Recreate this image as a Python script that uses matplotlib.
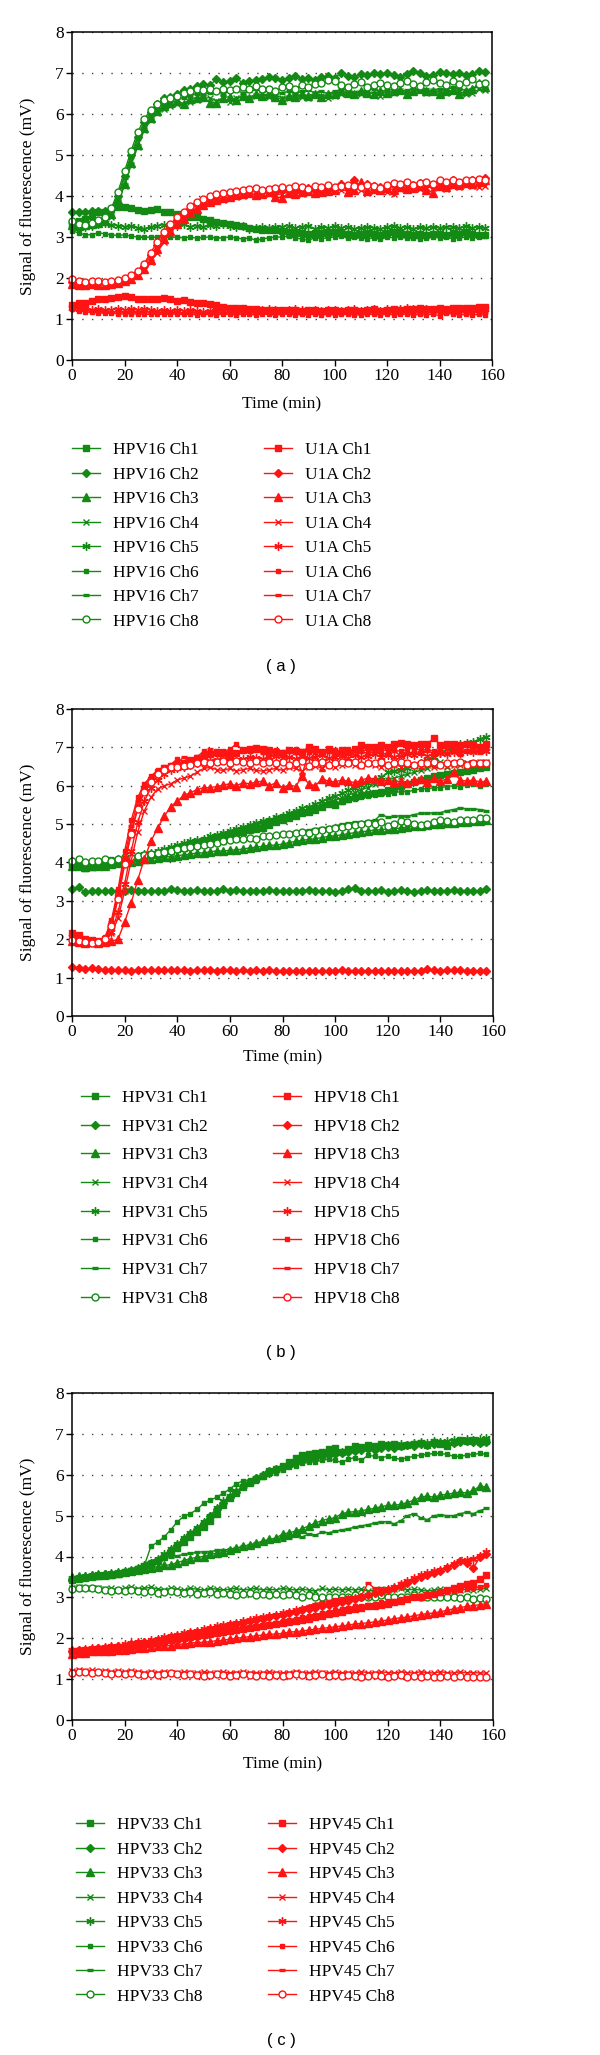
import numpy as np
import matplotlib
matplotlib.use('Agg')
import matplotlib.pyplot as plt

# readings every 2.5 min
time_min = np.arange(64) * 2.5

# ---- panel (a): HPV16 / U1A ----
hpv16_ch1 = [3.35, 3.40, 3.45, 3.52, 3.60, 3.62, 3.68, 3.72,
             3.74, 3.70, 3.66, 3.64, 3.66, 3.68, 3.62, 3.60,
             3.56, 3.53, 3.50, 3.48, 3.45, 3.42, 3.36, 3.34,
             3.32, 3.30, 3.27, 3.22, 3.20, 3.18, 3.17, 3.16,
             3.15, 3.12, 3.10, 3.10, 3.08, 3.08, 3.10, 3.10,
             3.12, 3.10, 3.08, 3.06, 3.08, 3.10, 3.08, 3.06,
             3.10, 3.12, 3.10, 3.08, 3.06, 3.08, 3.05, 3.08,
             3.08, 3.06, 3.10, 3.08, 3.12, 3.08, 3.06, 3.06]
hpv16_ch2 = [3.62, 3.62, 3.62, 3.63, 3.63, 3.64, 3.68, 4.00,
             4.50, 5.00, 5.45, 5.80, 6.05, 6.25, 6.38, 6.42,
             6.50, 6.58, 6.62, 6.68, 6.72, 6.70, 6.85, 6.78,
             6.80, 6.88, 6.76, 6.80, 6.82, 6.86, 6.90, 6.88,
             6.82, 6.88, 6.92, 6.86, 6.88, 6.82, 6.90, 6.92,
             6.88, 7.00, 6.92, 6.90, 6.98, 6.96, 7.00, 6.98,
             7.00, 6.96, 6.90, 6.98, 7.05, 7.00, 6.92, 6.96,
             7.02, 7.00, 6.98, 7.00, 6.96, 6.98, 7.05, 7.02]
hpv16_ch3 = [3.30, 3.28, 3.30, 3.32, 3.35, 3.40, 3.55, 3.90,
             4.30, 4.80, 5.25, 5.65, 5.90, 6.08, 6.20, 6.28,
             6.32, 6.25, 6.36, 6.40, 6.42, 6.28, 6.28, 6.40,
             6.42, 6.35, 6.45, 6.40, 6.48, 6.45, 6.50, 6.42,
             6.35, 6.45, 6.42, 6.48, 6.45, 6.50, 6.42, 6.48,
             6.50, 6.55, 6.52, 6.50, 6.55, 6.52, 6.50, 6.55,
             6.52, 6.55, 6.58, 6.48, 6.55, 6.60, 6.55, 6.55,
             6.50, 6.55, 6.58, 6.50, 6.55, 6.60, 6.75, 6.65]
hpv16_ch4 = [3.28, 3.30, 3.32, 3.30, 3.32, 3.38, 3.50, 3.85,
             4.25, 4.75, 5.20, 5.60, 5.85, 6.02, 6.12, 6.20,
             6.25, 6.22, 6.30, 6.35, 6.38, 6.40, 6.32, 6.38,
             6.30, 6.40, 6.42, 6.38, 6.45, 6.48, 6.42, 6.45,
             6.40, 6.38, 6.45, 6.42, 6.40, 6.48, 6.45, 6.38,
             6.45, 6.48, 6.50, 6.52, 6.50, 6.55, 6.48, 6.45,
             6.50, 6.52, 6.55, 6.50, 6.55, 6.58, 6.52, 6.55,
             6.55, 6.52, 6.58, 6.55, 6.50, 6.52, 6.60, 6.58]
hpv16_ch5 = [3.30, 3.28, 3.25, 3.28, 3.32, 3.35, 3.30, 3.28,
             3.25, 3.28, 3.22, 3.20, 3.25, 3.28, 3.30, 3.26,
             3.28, 3.32, 3.25, 3.28, 3.25, 3.30, 3.28, 3.32,
             3.28, 3.25, 3.26, 3.20, 3.22, 3.25, 3.22, 3.24,
             3.25, 3.28, 3.22, 3.25, 3.28, 3.20, 3.25, 3.22,
             3.26, 3.22, 3.25, 3.20, 3.22, 3.25, 3.22, 3.20,
             3.24, 3.26, 3.22, 3.25, 3.20, 3.24, 3.22, 3.25,
             3.22, 3.25, 3.24, 3.22, 3.26, 3.22, 3.25, 3.22]
hpv16_ch6 = [3.15, 3.10, 3.05, 3.06, 3.10, 3.08, 3.05, 3.04,
             3.05, 3.02, 3.00, 3.00, 2.99, 3.00, 3.00, 2.99,
             3.00, 2.98, 3.00, 2.97, 2.99, 3.00, 2.97, 2.98,
             3.00, 2.98, 2.95, 2.98, 2.92, 2.95, 2.98, 3.00,
             3.00, 3.02, 2.98, 2.95, 2.92, 2.98, 2.96, 2.98,
             3.00, 3.02, 2.98, 3.00, 2.97, 2.96, 2.98, 2.94,
             3.00, 2.98, 3.00, 2.97, 2.98, 2.95, 2.98, 3.00,
             2.98, 3.00, 2.96, 2.98, 3.00, 2.98, 3.00, 3.02]
hpv16_ch7 = [3.32, 3.30, 3.32, 3.35, 3.40, 3.48, 3.62, 3.98,
             4.45, 4.95, 5.38, 5.75, 6.00, 6.15, 6.25, 6.30,
             6.38, 6.40, 6.45, 6.50, 6.48, 6.52, 6.55, 6.50,
             6.55, 6.58, 6.52, 6.55, 6.60, 6.55, 6.58, 6.50,
             6.52, 6.55, 6.50, 6.55, 6.58, 6.52, 6.55, 6.50,
             6.55, 6.60, 6.58, 6.52, 6.55, 6.58, 6.62, 6.55,
             6.58, 6.60, 6.55, 6.58, 6.62, 6.58, 6.60, 6.55,
             6.62, 6.58, 6.65, 6.60, 6.58, 6.62, 6.68, 6.62]
hpv16_ch8 = [3.38, 3.32, 3.30, 3.35, 3.42, 3.50, 3.70, 4.10,
             4.60, 5.10, 5.55, 5.88, 6.10, 6.25, 6.35, 6.40,
             6.45, 6.52, 6.55, 6.60, 6.58, 6.62, 6.55, 6.60,
             6.58, 6.62, 6.65, 6.60, 6.68, 6.60, 6.62, 6.55,
             6.65, 6.68, 6.62, 6.70, 6.65, 6.72, 6.75, 6.82,
             6.80, 6.70, 6.65, 6.72, 6.78, 6.65, 6.70, 6.75,
             6.70, 6.68, 6.75, 6.80, 6.72, 6.68, 6.78, 6.82,
             6.75, 6.70, 6.80, 6.72, 6.78, 6.85, 6.72, 6.75]

u1a_ch1 = [1.35, 1.38, 1.40, 1.45, 1.48, 1.50, 1.52, 1.54,
           1.55, 1.54, 1.50, 1.49, 1.50, 1.50, 1.52, 1.48,
           1.45, 1.46, 1.42, 1.40, 1.38, 1.36, 1.34, 1.30,
           1.28, 1.28, 1.26, 1.24, 1.24, 1.22, 1.23, 1.22,
           1.22, 1.23, 1.22, 1.20, 1.22, 1.22, 1.20, 1.21,
           1.22, 1.20, 1.22, 1.21, 1.20, 1.22, 1.24, 1.20,
           1.22, 1.24, 1.22, 1.25, 1.24, 1.26, 1.24, 1.25,
           1.26, 1.24, 1.26, 1.28, 1.27, 1.26, 1.30, 1.30]
u1a_ch2 = [1.90, 1.88, 1.86, 1.88, 1.90, 1.88, 1.90, 1.92,
           1.98, 2.05, 2.15, 2.30, 2.55, 2.80, 3.05, 3.25,
           3.42, 3.55, 3.68, 3.80, 3.88, 3.95, 4.00, 4.05,
           4.08, 4.10, 4.12, 4.15, 4.18, 4.12, 4.15, 4.10,
           4.15, 4.18, 4.12, 4.15, 4.20, 4.16, 4.12, 4.18,
           4.20, 4.30, 4.25, 4.40, 4.22, 4.30, 4.25, 4.22,
           4.25, 4.28, 4.22, 4.30, 4.28, 4.32, 4.30, 4.25,
           4.35, 4.30, 4.38, 4.32, 4.35, 4.40, 4.38, 4.45]
u1a_ch3 = [1.85, 1.82, 1.84, 1.85, 1.82, 1.84, 1.86, 1.88,
           1.92, 1.98, 2.08, 2.22, 2.45, 2.70, 2.95, 3.15,
           3.32, 3.45, 3.58, 3.68, 3.78, 3.85, 3.90, 3.95,
           3.98, 4.02, 4.05, 4.08, 4.02, 4.05, 4.10, 3.98,
           3.95, 4.08, 4.05, 4.10, 4.12, 4.08, 4.10, 4.12,
           4.15, 4.30, 4.10, 4.15, 4.35, 4.12, 4.18, 4.15,
           4.20, 4.15, 4.22, 4.18, 4.20, 4.25, 4.15, 4.08,
           4.25, 4.22, 4.30, 4.28, 4.32, 4.30, 4.35, 4.40]
u1a_ch4 = [1.88, 1.85, 1.82, 1.84, 1.85, 1.83, 1.82, 1.85,
           1.90, 1.95, 2.05, 2.20, 2.40, 2.62, 2.88, 3.10,
           3.30, 3.42, 3.55, 3.65, 3.75, 3.82, 3.88, 3.90,
           3.95, 3.98, 4.00, 4.05, 4.02, 4.08, 4.05, 4.02,
           4.05, 4.10, 4.08, 4.05, 4.10, 4.12, 4.08, 4.10,
           4.12, 4.15, 4.12, 4.18, 4.15, 4.08, 4.12, 4.15,
           4.10, 4.05, 4.18, 4.15, 4.20, 4.18, 4.22, 4.20,
           4.22, 4.18, 4.25, 4.22, 4.28, 4.25, 4.22, 4.25]
u1a_ch5 = [1.28, 1.25, 1.26, 1.22, 1.24, 1.22, 1.23, 1.25,
           1.22, 1.24, 1.22, 1.25, 1.22, 1.20, 1.22, 1.20,
           1.22, 1.20, 1.22, 1.20, 1.18, 1.20, 1.22, 1.20,
           1.22, 1.20, 1.22, 1.22, 1.20, 1.22, 1.24, 1.22,
           1.20, 1.22, 1.24, 1.22, 1.20, 1.22, 1.20, 1.22,
           1.22, 1.20, 1.22, 1.24, 1.20, 1.22, 1.24, 1.20,
           1.24, 1.22, 1.24, 1.26, 1.24, 1.22, 1.24, 1.22,
           1.24, 1.22, 1.20, 1.24, 1.22, 1.24, 1.22, 1.24]
u1a_ch6 = [1.25, 1.20, 1.18, 1.16, 1.15, 1.14, 1.14, 1.13,
           1.12, 1.13, 1.12, 1.12, 1.11, 1.12, 1.11, 1.12,
           1.12, 1.11, 1.12, 1.10, 1.12, 1.11, 1.10, 1.12,
           1.11, 1.10, 1.12, 1.11, 1.10, 1.12, 1.11, 1.10,
           1.11, 1.12, 1.10, 1.11, 1.10, 1.12, 1.10, 1.11,
           1.10, 1.12, 1.11, 1.10, 1.10, 1.12, 1.11, 1.10,
           1.12, 1.10, 1.11, 1.12, 1.10, 1.11, 1.10, 1.12,
           1.08, 1.15, 1.12, 1.10, 1.11, 1.10, 1.11, 1.10]
u1a_ch7 = [1.30, 1.26, 1.24, 1.22, 1.20, 1.19, 1.18, 1.18,
           1.17, 1.18, 1.16, 1.17, 1.18, 1.16, 1.17, 1.16,
           1.17, 1.15, 1.16, 1.17, 1.15, 1.16, 1.15, 1.17,
           1.16, 1.15, 1.17, 1.16, 1.15, 1.17, 1.16, 1.15,
           1.16, 1.17, 1.15, 1.16, 1.17, 1.15, 1.16, 1.15,
           1.16, 1.15, 1.17, 1.16, 1.15, 1.17, 1.16, 1.15,
           1.17, 1.16, 1.15, 1.17, 1.16, 1.15, 1.17, 1.16,
           1.16, 1.15, 1.17, 1.16, 1.18, 1.16, 1.17, 1.16]
u1a_ch8 = [1.98, 1.92, 1.90, 1.93, 1.92, 1.90, 1.92, 1.95,
           2.00, 2.08, 2.18, 2.35, 2.62, 2.88, 3.12, 3.32,
           3.48, 3.62, 3.75, 3.85, 3.92, 4.00, 4.05, 4.08,
           4.10, 4.12, 4.15, 4.18, 4.20, 4.15, 4.18, 4.20,
           4.22, 4.20, 4.25, 4.22, 4.18, 4.25, 4.22, 4.28,
           4.22, 4.25, 4.28, 4.25, 4.22, 4.28, 4.25, 4.20,
           4.28, 4.32, 4.30, 4.35, 4.28, 4.32, 4.35, 4.30,
           4.40, 4.35, 4.38, 4.35, 4.40, 4.38, 4.42, 4.40]

# ---- panel (b): HPV31 / HPV18 ----
hpv31_ch1 = [3.95, 3.92, 3.85, 3.88, 3.92, 3.95, 3.98, 4.00,
             4.05, 4.08, 4.12, 4.15, 4.20, 4.22, 4.25, 4.30,
             4.35, 4.38, 4.42, 4.48, 4.52, 4.58, 4.62, 4.65,
             4.70, 4.75, 4.80, 4.85, 4.88, 4.90, 4.98, 5.05,
             5.10, 5.15, 5.22, 5.28, 5.32, 5.38, 5.45, 5.52,
             5.50, 5.60, 5.65, 5.70, 5.75, 5.78, 5.80, 5.85,
             5.88, 5.95, 6.00, 6.05, 6.10, 6.15, 6.20, 6.25,
             6.28, 6.30, 6.32, 6.35, 6.38, 6.40, 6.45, 6.50]
hpv31_ch2 = [3.32, 3.35, 3.22, 3.26, 3.25, 3.26, 3.25, 3.27,
             3.26, 3.28, 3.27, 3.25, 3.26, 3.27, 3.25, 3.32,
             3.28, 3.26, 3.25, 3.28, 3.27, 3.25, 3.27, 3.30,
             3.26, 3.28, 3.27, 3.26, 3.25, 3.27, 3.28, 3.26,
             3.27, 3.26, 3.25, 3.27, 3.28, 3.26, 3.27, 3.26,
             3.22, 3.27, 3.30, 3.34, 3.26, 3.27, 3.26, 3.28,
             3.24, 3.27, 3.28, 3.27, 3.22, 3.27, 3.28, 3.26,
             3.25, 3.27, 3.28, 3.27, 3.26, 3.25, 3.27, 3.30]
hpv31_ch3 = [3.90, 3.92, 3.88, 3.90, 3.92, 3.90, 3.95, 3.98,
             4.00, 4.02, 4.05, 4.08, 4.10, 4.12, 4.15, 4.15,
             4.18, 4.20, 4.22, 4.25, 4.25, 4.28, 4.30, 4.30,
             4.32, 4.33, 4.35, 4.38, 4.40, 4.42, 4.45, 4.45,
             4.48, 4.52, 4.55, 4.58, 4.60, 4.62, 4.65, 4.68,
             4.70, 4.72, 4.75, 4.78, 4.80, 4.82, 4.85, 4.85,
             4.88, 4.88, 4.90, 4.92, 4.95, 4.95, 4.98, 5.00,
             5.00, 5.02, 5.04, 5.05, 5.06, 5.08, 5.08, 5.10]
hpv31_ch4 = [4.00, 3.95, 3.90, 3.92, 3.95, 3.98, 4.00, 4.05,
             4.08, 4.12, 4.15, 4.20, 4.22, 4.25, 4.30, 4.35,
             4.40, 4.45, 4.48, 4.52, 4.58, 4.62, 4.68, 4.72,
             4.78, 4.82, 4.88, 4.92, 4.98, 5.02, 5.08, 5.12,
             5.18, 5.22, 5.28, 5.32, 5.38, 5.45, 5.50, 5.58,
             5.62, 5.68, 5.75, 5.82, 5.90, 5.95, 6.05, 6.10,
             6.15, 6.20, 6.25, 6.30, 6.35, 6.40, 6.45, 6.55,
             6.62, 6.50, 6.55, 6.58, 6.60, 6.58, 6.62, 6.62]
hpv31_ch5 = [4.05, 4.00, 3.95, 3.98, 4.00, 4.02, 4.05, 4.08,
             4.10, 4.15, 4.18, 4.22, 4.25, 4.30, 4.35, 4.40,
             4.45, 4.50, 4.55, 4.58, 4.62, 4.68, 4.72, 4.78,
             4.82, 4.88, 4.92, 4.98, 5.02, 5.08, 5.12, 5.18,
             5.22, 5.28, 5.35, 5.42, 5.45, 5.52, 5.60, 5.68,
             5.72, 5.80, 5.88, 5.95, 6.02, 6.08, 6.15, 6.22,
             6.35, 6.38, 6.40, 6.45, 6.52, 6.60, 6.68, 6.75,
             6.85, 6.95, 7.02, 7.08, 7.12, 7.15, 7.22, 7.27]
hpv31_ch6 = [4.05, 4.02, 3.98, 4.00, 4.02, 4.05, 4.08, 4.10,
             4.12, 4.15, 4.18, 4.22, 4.25, 4.28, 4.32, 4.35,
             4.40, 4.45, 4.50, 4.55, 4.60, 4.65, 4.70, 4.75,
             4.80, 4.85, 4.90, 4.95, 5.00, 5.05, 5.10, 5.15,
             5.20, 5.25, 5.30, 5.35, 5.38, 5.42, 5.48, 5.52,
             5.55, 5.58, 5.62, 5.65, 5.70, 5.72, 5.75, 5.78,
             5.78, 5.82, 5.85, 5.85, 5.88, 5.92, 5.92, 5.95,
             5.95, 5.98, 6.00, 5.98, 6.02, 6.05, 6.00, 6.05]
hpv31_ch7 = [4.05, 4.05, 4.00, 4.02, 4.05, 4.05, 4.08, 4.10,
             4.12, 4.15, 4.18, 4.20, 4.22, 4.25, 4.28, 4.30,
             4.32, 4.35, 4.38, 4.40, 4.42, 4.45, 4.48, 4.50,
             4.55, 4.58, 4.60, 4.62, 4.65, 4.68, 4.70, 4.72,
             4.75, 4.78, 4.80, 4.82, 4.85, 4.88, 4.90, 4.92,
             4.95, 5.00, 5.02, 5.05, 5.05, 5.08, 5.10, 5.25,
             5.18, 5.20, 5.22, 5.20, 5.25, 5.28, 5.28, 5.30,
             5.30, 5.35, 5.38, 5.42, 5.40, 5.40, 5.38, 5.35]
hpv31_ch8 = [4.05, 4.08, 4.02, 4.05, 4.05, 4.08, 4.05, 4.10,
             4.15, 4.12, 4.18, 4.20, 4.22, 4.25, 4.28, 4.30,
             4.35, 4.38, 4.40, 4.42, 4.45, 4.48, 4.50, 4.55,
             4.58, 4.60, 4.62, 4.65, 4.62, 4.68, 4.70, 4.72,
             4.75, 4.75, 4.78, 4.80, 4.78, 4.82, 4.85, 4.88,
             4.90, 4.92, 4.95, 4.98, 5.00, 5.02, 5.00, 5.05,
             4.95, 5.00, 5.08, 5.05, 5.00, 4.98, 5.00, 5.05,
             5.10, 5.08, 5.05, 5.10, 5.12, 5.10, 5.15, 5.15]

hpv18_ch1 = [2.15, 2.10, 2.00, 1.98, 1.95, 2.00, 2.35, 3.10,
             4.00, 4.80, 5.45, 5.90, 6.15, 6.35, 6.45, 6.52,
             6.55, 6.60, 6.68, 6.72, 6.78, 6.82, 6.88, 6.85,
             6.80, 6.85, 6.92, 6.95, 6.98, 6.95, 6.92, 6.88,
             6.85, 6.92, 6.90, 6.88, 7.02, 6.95, 6.88, 6.95,
             6.85, 6.92, 6.88, 6.95, 7.05, 7.02, 7.00, 7.05,
             7.02, 7.08, 7.12, 7.10, 7.05, 7.10, 7.08, 7.25,
             7.05, 7.10, 7.08, 7.05, 7.10, 7.05, 7.00, 7.08]
hpv18_ch2 = [1.28, 1.25, 1.22, 1.24, 1.23, 1.20, 1.21, 1.20,
             1.20, 1.18, 1.20, 1.20, 1.19, 1.20, 1.20, 1.19,
             1.20, 1.19, 1.18, 1.19, 1.19, 1.20, 1.18, 1.19,
             1.20, 1.18, 1.19, 1.18, 1.19, 1.18, 1.19, 1.18,
             1.17, 1.18, 1.17, 1.16, 1.18, 1.17, 1.18, 1.17,
             1.18, 1.19, 1.17, 1.18, 1.17, 1.18, 1.17, 1.18,
             1.16, 1.17, 1.18, 1.17, 1.18, 1.17, 1.22, 1.19,
             1.16, 1.21, 1.19, 1.20, 1.17, 1.18, 1.16, 1.17]
hpv18_ch3 = [1.95, 1.92, 1.90, 1.92, 1.90, 1.92, 1.95, 2.00,
             2.45, 2.95, 3.55, 4.10, 4.55, 4.90, 5.20, 5.45,
             5.60, 5.75, 5.82, 5.90, 5.95, 5.95, 5.98, 6.02,
             6.05, 6.00, 6.08, 6.05, 6.10, 6.12, 6.00, 6.08,
             5.95, 6.02, 5.98, 6.25, 6.05, 6.00, 6.18, 6.12,
             6.10, 6.15, 6.12, 6.08, 6.15, 6.20, 6.18, 6.12,
             6.15, 6.10, 6.12, 6.08, 6.15, 6.18, 6.10, 6.20,
             6.12, 6.18, 6.35, 6.15, 6.12, 6.15, 6.10, 6.12]
hpv18_ch4 = [2.00, 1.98, 1.95, 1.92, 1.90, 1.95, 2.15, 2.55,
             3.25, 4.05, 4.80, 5.35, 5.70, 5.92, 6.00, 6.05,
             6.15, 6.20, 6.25, 6.35, 6.45, 6.48, 6.42, 6.40,
             6.45, 6.38, 6.42, 6.45, 6.40, 6.38, 6.42, 6.45,
             6.40, 6.48, 6.45, 6.38, 6.50, 6.52, 6.45, 6.55,
             6.50, 6.55, 6.60, 6.55, 6.52, 6.58, 6.55, 6.50,
             6.52, 6.55, 6.50, 6.58, 6.55, 6.50, 6.55, 6.50,
             6.55, 6.52, 6.58, 6.55, 6.60, 6.58, 6.55, 6.60]
hpv18_ch5 = [2.05, 2.00, 1.98, 1.95, 1.92, 1.98, 2.20, 2.70,
             3.45, 4.30, 5.05, 5.60, 5.95, 6.15, 6.30, 6.40,
             6.45, 6.50, 6.55, 6.60, 6.62, 6.65, 6.68, 6.70,
             6.72, 6.68, 6.70, 6.75, 6.72, 6.70, 6.75, 6.78,
             6.72, 6.75, 6.70, 6.78, 6.72, 6.75, 6.80, 6.72,
             6.75, 6.78, 6.72, 6.80, 6.75, 6.78, 6.82, 6.75,
             6.80, 6.75, 6.78, 6.82, 6.80, 6.85, 6.78, 6.82,
             6.85, 6.82, 6.88, 6.85, 6.90, 6.88, 6.92, 6.90]
hpv18_ch6 = [2.10, 2.05, 2.00, 1.98, 1.95, 2.05, 2.50, 3.30,
             4.30, 5.10, 5.70, 6.05, 6.25, 6.40, 6.50, 6.55,
             6.70, 6.60, 6.65, 6.75, 6.90, 6.80, 6.85, 6.90,
             6.95, 7.10, 6.90, 6.95, 6.92, 6.88, 6.90, 6.92,
             6.88, 6.92, 6.95, 6.90, 6.88, 6.92, 6.85, 6.90,
             6.92, 6.88, 6.95, 6.92, 6.90, 6.95, 6.92, 6.90,
             6.95, 6.92, 6.90, 6.95, 6.98, 6.92, 6.95, 6.90,
             6.95, 6.98, 6.92, 6.95, 6.90, 6.98, 6.95, 6.92]
hpv18_ch7 = [2.08, 2.02, 1.98, 1.95, 1.92, 2.02, 2.45, 3.20,
             4.15, 4.95, 5.60, 5.98, 6.20, 6.35, 6.48, 6.50,
             6.60, 6.75, 6.55, 6.65, 6.70, 6.95, 6.80, 6.85,
             6.90, 6.85, 6.95, 6.88, 6.90, 6.85, 6.80, 6.88,
             6.82, 6.88, 6.85, 6.30, 6.90, 6.85, 6.40, 6.88,
             6.82, 6.90, 6.85, 6.80, 6.88, 6.85, 6.90, 6.82,
             6.85, 6.90, 6.78, 6.85, 6.88, 6.82, 6.90, 6.85,
             6.90, 6.85, 6.88, 6.80, 6.92, 6.88, 6.85, 6.95]
hpv18_ch8 = [1.98, 1.95, 1.92, 1.90, 1.92, 2.00, 2.35, 3.05,
             3.95, 4.75, 5.40, 5.85, 6.10, 6.30, 6.40, 6.48,
             6.50, 6.52, 6.55, 6.60, 6.62, 6.58, 6.62, 6.65,
             6.60, 6.65, 6.62, 6.58, 6.65, 6.60, 6.62, 6.58,
             6.62, 6.55, 6.60, 6.65, 6.52, 6.58, 6.62, 6.55,
             6.60, 6.62, 6.58, 6.62, 6.55, 6.60, 6.58, 6.62,
             6.55, 6.60, 6.62, 6.58, 6.55, 6.60, 6.58, 6.62,
             6.55, 6.60, 6.58, 6.62, 6.55, 6.58, 6.60, 6.58]

# ---- panel (c): HPV33 / HPV45 ----
hpv33_ch1 = [3.42, 3.45, 3.48, 3.50, 3.52, 3.52, 3.55, 3.58,
             3.62, 3.65, 3.70, 3.75, 3.80, 3.88, 3.98, 4.10,
             4.22, 4.35, 4.48, 4.60, 4.72, 4.88, 5.05, 5.25,
             5.42, 5.55, 5.70, 5.80, 5.90, 5.98, 6.08, 6.15,
             6.22, 6.30, 6.40, 6.48, 6.50, 6.52, 6.55, 6.62,
             6.65, 6.55, 6.62, 6.70, 6.68, 6.72, 6.70, 6.75,
             6.72, 6.75, 6.70, 6.72, 6.75, 6.78, 6.72, 6.80,
             6.75, 6.70, 6.80, 6.85, 6.82, 6.85, 6.80, 6.82]
hpv33_ch2 = [3.45, 3.48, 3.50, 3.52, 3.55, 3.56, 3.58, 3.60,
             3.62, 3.65, 3.70, 3.75, 3.82, 3.92, 4.02, 4.15,
             4.28, 4.42, 4.55, 4.68, 4.82, 4.98, 5.15, 5.32,
             5.45, 5.58, 5.72, 5.82, 5.92, 6.00, 6.08, 6.15,
             6.20, 6.25, 6.30, 6.35, 6.38, 6.40, 6.45, 6.48,
             6.50, 6.52, 6.55, 6.58, 6.60, 6.62, 6.60, 6.65,
             6.68, 6.65, 6.70, 6.72, 6.70, 6.75, 6.72, 6.75,
             6.78, 6.75, 6.78, 6.80, 6.82, 6.80, 6.78, 6.80]
hpv33_ch3 = [3.50, 3.52, 3.52, 3.55, 3.55, 3.58, 3.58, 3.60,
             3.62, 3.65, 3.68, 3.70, 3.72, 3.75, 3.78, 3.80,
             3.85, 3.90, 3.95, 3.98, 4.00, 4.05, 4.08, 4.10,
             4.15, 4.20, 4.25, 4.28, 4.32, 4.38, 4.42, 4.45,
             4.55, 4.58, 4.62, 4.68, 4.75, 4.82, 4.88, 4.92,
             4.95, 5.05, 5.08, 5.10, 5.12, 5.15, 5.18, 5.22,
             5.25, 5.25, 5.28, 5.32, 5.38, 5.45, 5.48, 5.45,
             5.50, 5.52, 5.55, 5.58, 5.55, 5.62, 5.72, 5.70]
hpv33_ch4 = [3.22, 3.25, 3.22, 3.24, 3.22, 3.20, 3.22, 3.18,
             3.22, 3.25, 3.20, 3.22, 3.25, 3.20, 3.18, 3.22,
             3.20, 3.18, 3.22, 3.20, 3.18, 3.22, 3.20, 3.18,
             3.20, 3.22, 3.18, 3.20, 3.22, 3.18, 3.20, 3.18,
             3.22, 3.20, 3.18, 3.20, 3.18, 3.15, 3.22, 3.18,
             3.20, 3.18, 3.20, 3.18, 3.20, 3.15, 3.18, 3.20,
             3.18, 3.20, 3.22, 3.18, 3.20, 3.18, 3.15, 3.18,
             3.20, 3.18, 3.15, 3.18, 3.20, 3.18, 3.20, 3.22]
hpv33_ch5 = [3.48, 3.50, 3.52, 3.54, 3.56, 3.58, 3.60, 3.62,
             3.65, 3.68, 3.72, 3.78, 3.85, 3.95, 4.05, 4.18,
             4.30, 4.45, 4.58, 4.70, 4.85, 5.00, 5.18, 5.35,
             5.48, 5.60, 5.72, 5.82, 5.92, 6.00, 6.05, 6.12,
             6.18, 6.25, 6.30, 6.35, 6.40, 6.42, 6.45, 6.50,
             6.52, 6.55, 6.58, 6.60, 6.62, 6.65, 6.68, 6.70,
             6.72, 6.70, 6.75, 6.72, 6.78, 6.80, 6.78, 6.82,
             6.80, 6.82, 6.85, 6.82, 6.88, 6.85, 6.88, 6.90]
hpv33_ch6 = [3.40, 3.45, 3.48, 3.50, 3.52, 3.55, 3.58, 3.60,
             3.62, 3.68, 3.72, 3.78, 4.25, 4.35, 4.48, 4.65,
             4.85, 4.98, 5.05, 5.15, 5.30, 5.38, 5.45, 5.55,
             5.65, 5.78, 5.85, 5.88, 5.85, 5.95, 6.02, 6.05,
             6.12, 6.18, 6.22, 6.28, 6.30, 6.32, 6.35, 6.38,
             6.35, 6.30, 6.38, 6.42, 6.35, 6.48, 6.45, 6.42,
             6.45, 6.40, 6.38, 6.42, 6.45, 6.48, 6.50, 6.52,
             6.52, 6.50, 6.45, 6.45, 6.48, 6.50, 6.52, 6.50]
hpv33_ch7 = [3.42, 3.45, 3.48, 3.50, 3.52, 3.55, 3.58, 3.60,
             3.65, 3.70, 3.75, 3.82, 3.90, 3.95, 3.98, 4.00,
             4.02, 4.05, 4.08, 4.10, 4.12, 4.12, 4.15, 4.15,
             4.18, 4.20, 4.25, 4.28, 4.32, 4.35, 4.38, 4.42,
             4.40, 4.45, 4.50, 4.48, 4.55, 4.52, 4.60, 4.58,
             4.62, 4.65, 4.68, 4.72, 4.75, 4.78, 4.82, 4.85,
             4.85, 4.80, 4.88, 5.00, 5.05, 4.95, 4.90, 5.00,
             5.02, 5.00, 5.00, 5.05, 5.08, 5.05, 5.12, 5.18]
hpv33_ch8 = [3.20, 3.22, 3.24, 3.22, 3.20, 3.18, 3.15, 3.18,
             3.15, 3.18, 3.15, 3.12, 3.15, 3.10, 3.12, 3.15,
             3.12, 3.10, 3.12, 3.08, 3.10, 3.12, 3.08, 3.10,
             3.08, 3.05, 3.08, 3.10, 3.05, 3.08, 3.05, 3.08,
             3.05, 3.08, 3.05, 3.02, 3.05, 3.00, 3.02, 3.00,
             3.02, 3.00, 3.02, 3.05, 3.02, 3.00, 3.02, 3.05,
             3.02, 3.00, 3.02, 3.00, 3.05, 3.02, 3.00, 3.02,
             3.02, 3.00, 3.02, 2.98, 3.00, 2.95, 2.98, 2.97]

hpv45_ch1 = [1.68, 1.70, 1.70, 1.72, 1.72, 1.74, 1.75, 1.75,
             1.78, 1.80, 1.82, 1.85, 1.88, 1.90, 1.92, 1.95,
             1.98, 2.00, 2.02, 2.05, 2.08, 2.10, 2.12, 2.15,
             2.18, 2.20, 2.22, 2.25, 2.28, 2.30, 2.32, 2.35,
             2.38, 2.40, 2.42, 2.45, 2.48, 2.52, 2.55, 2.60,
             2.62, 2.65, 2.70, 2.72, 2.75, 2.78, 2.80, 2.82,
             2.85, 2.88, 2.92, 2.95, 3.00, 3.02, 3.05, 3.08,
             3.12, 3.18, 3.22, 3.28, 3.32, 3.35, 3.45, 3.55]
hpv45_ch2 = [1.70, 1.72, 1.72, 1.74, 1.75, 1.76, 1.78, 1.80,
             1.82, 1.85, 1.88, 1.90, 1.92, 1.95, 1.98, 2.02,
             2.05, 2.08, 2.12, 2.15, 2.18, 2.22, 2.25, 2.28,
             2.32, 2.35, 2.38, 2.42, 2.45, 2.48, 2.52, 2.55,
             2.58, 2.62, 2.65, 2.68, 2.72, 2.75, 2.78, 2.82,
             2.85, 2.88, 2.92, 2.95, 3.00, 3.05, 3.10, 3.12,
             3.18, 3.22, 3.28, 3.35, 3.42, 3.50, 3.55, 3.60,
             3.65, 3.72, 3.80, 3.88, 3.85, 3.72, 3.98, 4.05]
hpv45_ch3 = [1.62, 1.65, 1.65, 1.68, 1.68, 1.70, 1.70, 1.72,
             1.72, 1.74, 1.75, 1.76, 1.78, 1.80, 1.82, 1.82,
             1.85, 1.86, 1.88, 1.90, 1.90, 1.92, 1.94, 1.95,
             1.98, 2.00, 2.02, 2.04, 2.06, 2.08, 2.10, 2.10,
             2.12, 2.15, 2.16, 2.18, 2.20, 2.22, 2.24, 2.26,
             2.28, 2.30, 2.32, 2.35, 2.36, 2.38, 2.40, 2.42,
             2.45, 2.48, 2.50, 2.52, 2.55, 2.58, 2.60, 2.62,
             2.65, 2.68, 2.72, 2.75, 2.78, 2.80, 2.82, 2.85]
hpv45_ch4 = [1.20, 1.22, 1.20, 1.22, 1.18, 1.20, 1.18, 1.20,
             1.18, 1.20, 1.18, 1.16, 1.18, 1.16, 1.18, 1.16,
             1.15, 1.18, 1.16, 1.15, 1.18, 1.15, 1.16, 1.18,
             1.15, 1.16, 1.18, 1.15, 1.16, 1.15, 1.18, 1.16,
             1.15, 1.16, 1.18, 1.15, 1.16, 1.18, 1.15, 1.16,
             1.18, 1.15, 1.16, 1.15, 1.18, 1.16, 1.15, 1.18,
             1.16, 1.15, 1.18, 1.16, 1.15, 1.18, 1.16, 1.15,
             1.18, 1.16, 1.15, 1.18, 1.15, 1.16, 1.15, 1.15]
hpv45_ch5 = [1.72, 1.72, 1.74, 1.75, 1.76, 1.78, 1.80, 1.82,
             1.85, 1.88, 1.90, 1.92, 1.95, 1.98, 2.02, 2.05,
             2.08, 2.12, 2.15, 2.18, 2.22, 2.25, 2.30, 2.32,
             2.35, 2.38, 2.42, 2.45, 2.50, 2.52, 2.55, 2.58,
             2.62, 2.65, 2.68, 2.72, 2.75, 2.78, 2.82, 2.85,
             2.88, 2.92, 2.95, 2.98, 3.02, 3.05, 3.10, 3.15,
             3.20, 3.25, 3.32, 3.40, 3.48, 3.55, 3.60, 3.65,
             3.68, 3.75, 3.82, 3.88, 3.92, 3.95, 4.02, 4.10]
hpv45_ch6 = [1.70, 1.72, 1.72, 1.74, 1.75, 1.76, 1.78, 1.80,
             1.82, 1.84, 1.86, 1.88, 1.90, 1.92, 1.95, 1.98,
             2.00, 2.02, 2.05, 2.08, 2.10, 2.12, 2.15, 2.18,
             2.20, 2.22, 2.25, 2.28, 2.30, 2.32, 2.35, 2.38,
             2.42, 2.45, 2.48, 2.52, 2.55, 2.58, 2.62, 2.65,
             2.68, 2.72, 2.75, 2.78, 2.80, 2.82, 2.85, 2.88,
             2.90, 2.92, 2.95, 2.98, 3.00, 3.02, 3.05, 3.08,
             3.10, 3.12, 3.15, 3.18, 3.20, 3.22, 3.25, 3.30]
hpv45_ch7 = [1.72, 1.74, 1.75, 1.76, 1.78, 1.78, 1.80, 1.82,
             1.85, 1.88, 1.90, 1.92, 1.95, 1.98, 2.00, 2.05,
             2.08, 2.12, 2.15, 2.18, 2.22, 2.25, 2.28, 2.32,
             2.35, 2.38, 2.42, 2.45, 2.48, 2.52, 2.55, 2.58,
             2.62, 2.65, 2.70, 2.75, 2.80, 2.85, 2.88, 2.92,
             2.95, 2.98, 3.00, 3.02, 3.05, 3.35, 3.22, 3.22,
             3.22, 3.22, 3.35, 3.40, 3.45, 3.50, 3.55, 3.62,
             3.68, 3.75, 3.82, 3.88, 3.92, 3.95, 4.00, 4.05]
hpv45_ch8 = [1.15, 1.18, 1.18, 1.15, 1.18, 1.15, 1.12, 1.15,
             1.12, 1.15, 1.12, 1.10, 1.12, 1.10, 1.12, 1.15,
             1.12, 1.10, 1.12, 1.10, 1.08, 1.10, 1.12, 1.10,
             1.08, 1.10, 1.12, 1.10, 1.08, 1.10, 1.08, 1.10,
             1.08, 1.10, 1.12, 1.10, 1.08, 1.10, 1.12, 1.08,
             1.10, 1.08, 1.10, 1.08, 1.06, 1.08, 1.10, 1.08,
             1.06, 1.08, 1.10, 1.06, 1.08, 1.06, 1.08, 1.05,
             1.06, 1.08, 1.05, 1.08, 1.06, 1.05, 1.06, 1.05]

GREEN = '#138a13'
RED = '#ff1414'
W, H = 600, 2055

# Excel-like markers for channels 1..8
markers = ['s', 'D', '^', 'x', (6, 2, 0), 's', '_', 'o']
msizes = [5, 4.5, 5.5, 5, 6, 2.2, 5, 5]

plt.rcParams['font.family'] = ['Liberation Serif', 'DejaVu Serif']

fig = plt.figure(figsize=(W / 100, H / 100), dpi=100)


def line_style(i, color):
    kw = dict(color=color, lw=1.0, marker=markers[i], ms=msizes[i],
              mec=color, mfc=color, mew=1.0, clip_on=False)
    if i == 7:
        kw['mfc'] = 'white'
    if i == 6:
        kw['mew'] = 2.4
    return kw


def panel(top, bottom, right, green, red, gname, rname, leg_x, leg_top, leg_gap, tag, tag_y):
    ax = fig.add_axes([72 / W, 1 - bottom / H, (right - 72) / W, (bottom - top) / H])
    g_lines, r_lines = [], []
    for i, ys in enumerate(green):
        ln, = ax.plot(time_min, ys, label=f'{gname} Ch{i + 1}', **line_style(i, GREEN))
        g_lines.append(ln)
    for i, ys in enumerate(red):
        ln, = ax.plot(time_min, ys, label=f'{rname} Ch{i + 1}', **line_style(i, RED))
        r_lines.append(ln)

    ax.set_xlim(0, 160)
    ax.set_ylim(0, 8)
    ax.set_xticks(range(0, 161, 20))
    ax.set_yticks(range(0, 9))
    ax.tick_params(direction='out', length=4, width=1, labelsize=12.5, pad=2)
    ax.grid(axis='y', linestyle=(0, (1, 6)), color='#444444', lw=1.0)
    for s in ax.spines.values():
        s.set_linewidth(1.1)
    ax.set_xlabel('Time (min)', fontsize=12.5)
    ax.set_ylabel('Signal of fluorescence (mV)', fontsize=12.5)
    ax.xaxis.set_label_coords(0.5, -0.11)
    ax.yaxis.set_label_coords(-0.085, 0.5)

    for lines, x in zip((g_lines, r_lines), leg_x):
        fig.legend(handles=lines, loc='upper left',
                   bbox_to_anchor=(x / W, 1 - leg_top / H),
                   bbox_transform=fig.transFigure,
                   frameon=False, fontsize=12.5, borderpad=0, borderaxespad=0,
                   handlelength=1.6, handletextpad=0.75, labelspacing=leg_gap)
    fig.text(281 / W, 1 - tag_y / H, tag, ha='center', va='center',
             family='Liberation Sans', fontsize=12)
    return ax


panel(32, 360, 492,
      [hpv16_ch1, hpv16_ch2, hpv16_ch3, hpv16_ch4, hpv16_ch5, hpv16_ch6, hpv16_ch7, hpv16_ch8],
      [u1a_ch1, u1a_ch2, u1a_ch3, u1a_ch4, u1a_ch5, u1a_ch6, u1a_ch7, u1a_ch8],
      'HPV16', 'U1A', (72, 264), 442, 0.48, '( a )', 666)
panel(709, 1016, 493,
      [hpv31_ch1, hpv31_ch2, hpv31_ch3, hpv31_ch4, hpv31_ch5, hpv31_ch6, hpv31_ch7, hpv31_ch8],
      [hpv18_ch1, hpv18_ch2, hpv18_ch3, hpv18_ch4, hpv18_ch5, hpv18_ch6, hpv18_ch7, hpv18_ch8],
      'HPV31', 'HPV18', (81, 273), 1090, 0.72, '( b )', 1352)
panel(1393, 1720, 493,
      [hpv33_ch1, hpv33_ch2, hpv33_ch3, hpv33_ch4, hpv33_ch5, hpv33_ch6, hpv33_ch7, hpv33_ch8],
      [hpv45_ch1, hpv45_ch2, hpv45_ch3, hpv45_ch4, hpv45_ch5, hpv45_ch6, hpv45_ch7, hpv45_ch8],
      'HPV33', 'HPV45', (76, 268), 1817, 0.48, '( c )', 2040)

fig.savefig('out.png', dpi=100)
